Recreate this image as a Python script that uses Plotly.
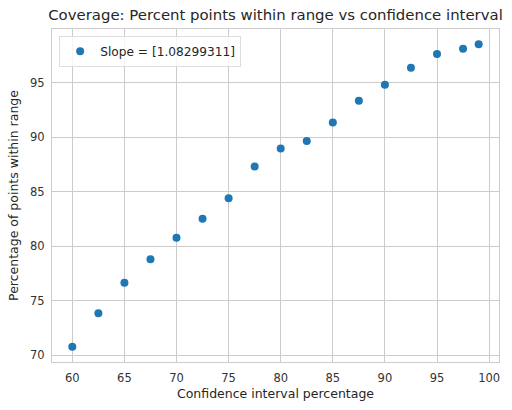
import plotly.graph_objects as go

# confidence interval (%) vs percentage of points inside the interval
conf_pct = [60, 62.5, 65, 67.5, 70, 72.5, 75, 77.5, 80, 82.5, 85, 87.5, 90, 92.5, 95, 97.5, 99]
within_pct = [70.8, 73.85, 76.66, 78.82, 80.78, 82.52, 84.41, 87.31, 88.96, 89.65,
              91.35, 93.35, 94.82, 96.38, 97.63, 98.11, 98.54]
slope_label = 'Slope = [1.08299311]'
x_ticks = [60, 65, 70, 75, 80, 85, 90, 95, 100]
y_ticks = [70, 75, 80, 85, 90, 95]

fig = go.Figure()
fig.add_trace(go.Scatter(x=conf_pct, y=within_pct, mode='markers', name=slope_label,
                         marker=dict(color='#1f77b4', size=8)))

axis_style = dict(showgrid=True, gridcolor='#cccccc', gridwidth=1,
                  showline=True, linecolor='#cccccc', mirror=True, zeroline=False,
                  ticks='', tickfont=dict(size=11.5, color='#333333'), automargin=False)

fig.update_layout(
    width=512, height=410,
    margin=dict(l=52, r=13, t=29, b=48),
    paper_bgcolor='white', plot_bgcolor='white',
    font=dict(family='DejaVu Sans', color='#262626'),
    title=dict(text='Coverage: Percent points within range vs confidence interval',
               x=0.5, xref='paper', xanchor='center', y=0.963, yanchor='middle',
               font=dict(size=14.9, color='#262626')),
    xaxis=dict(range=[58.05, 100.95], tickvals=x_ticks, ticklabelstandoff=5,
               title=dict(text='Confidence interval percentage', font=dict(size=12.5), standoff=5),
               **axis_style),
    yaxis=dict(range=[69.39, 99.93], tickvals=y_ticks, ticklabelstandoff=4,
               title=dict(text='Percentage of points within range', font=dict(size=12.5), standoff=8),
               **axis_style),
    showlegend=True,
    legend=dict(x=0.016, y=0.98, xanchor='left', yanchor='top',
                bgcolor='rgba(255,255,255,0.8)', bordercolor='#dddddd', borderwidth=1,
                font=dict(size=12.2, color='#262626')),
)

# page body has an 8px default margin; drop it so the figure sits at the window corner
fig.write_html("out.html", config={'displayModeBar': False},
               post_script="document.body.style.margin='0';")
